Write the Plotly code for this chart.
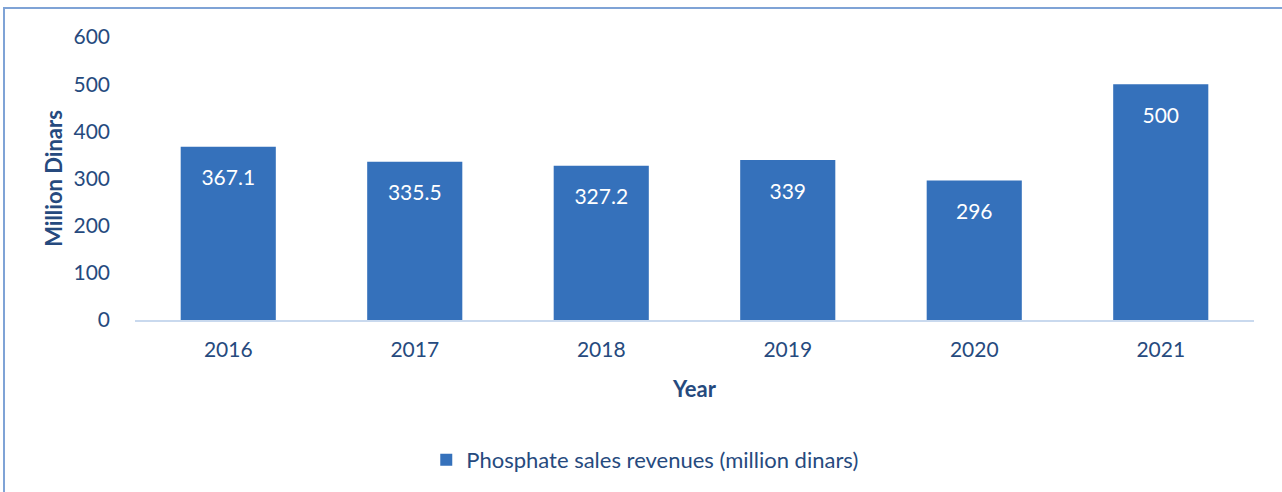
import plotly.graph_objects as go

years = ["2016", "2017", "2018", "2019", "2020", "2021"]
revenues = [367.1, 335.5, 327.2, 339, 296, 500]
labels = ["367.1", "335.5", "327.2", "339", "296", "500"]
series_name = "Phosphate sales revenues (million dinars)"

txt = "#264a7e"
font_family = "Lato, 'Open Sans', sans-serif"

fig = go.Figure()
fig.add_trace(go.Bar(
    x=years, y=revenues, name=series_name,
    marker=dict(color="#3571bb", line=dict(width=0)),
    hoverinfo="skip", showlegend=True,
))
fig.add_trace(go.Scatter(
    x=years, y=revenues, mode="markers+text", text=labels,
    textposition="bottom center",
    textfont=dict(color="white", size=21, family=font_family),
    marker=dict(size=35, opacity=0), showlegend=False, hoverinfo="skip",
))

fig.update_layout(
    width=1282, height=492,
    margin=dict(l=135, r=28, t=37, b=171),
    paper_bgcolor="white", plot_bgcolor="white",
    font=dict(family=font_family, color=txt, size=21),
    bargap=0.49,
    showlegend=True,
    legend=dict(orientation="h", x=0.456, xanchor="center", y=-0.489, yanchor="middle",
                font=dict(size=22, color=txt)),
    xaxis=dict(showgrid=False, showline=True, linecolor="#c9d9ee", linewidth=2,
               ticks="", tickfont=dict(size=21, color=txt), ticklabelstandoff=10,
               title=dict(text="<b>Year</b>", font=dict(size=22, color=txt), standoff=21)),
    yaxis=dict(range=[0, 600], dtick=100, showgrid=False, showline=False, zeroline=False,
               ticks="", tickfont=dict(size=21, color=txt), ticklabelstandoff=24,
               title=dict(text="<b>Million Dinars</b>", font=dict(size=22, color=txt), standoff=4)),
    shapes=[dict(type="rect", xref="paper", yref="paper",
                 x0=(4 - 135) / 1119, x1=1.2, y0=-1.0, y1=(321 - 8) / 284,
                 line=dict(color="#7fa3d6", width=2), fillcolor="rgba(0,0,0,0)", layer="below")],
)

fig.write_html("out.html", config={"displayModeBar": False},
               post_script="document.body.style.margin='0';")
